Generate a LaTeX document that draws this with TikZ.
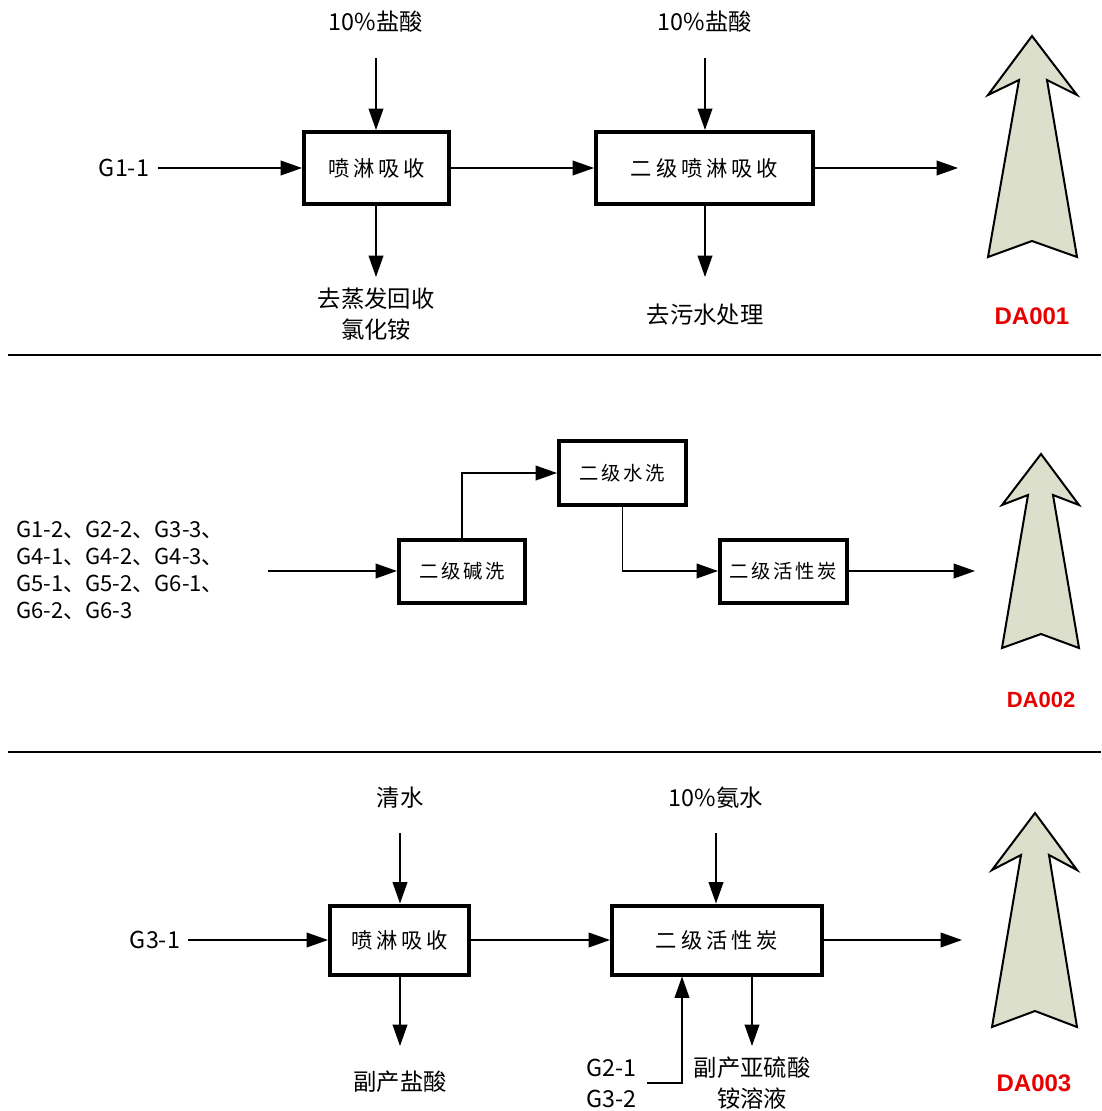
\documentclass[tikz,border=0pt]{standalone}
\usepackage{fontspec}
\setmainfont{Noto Sans CJK SC}
\newfontfamily\boxfont{Noto Sans CJK SC}[LetterSpace=18]
\newfontfamily\boxfontB{Noto Sans CJK SC}[LetterSpace=14]
\newfontfamily\dafont{Liberation Sans}
\usetikzlibrary{arrows.meta}
\definecolor{chim}{RGB}{220,223,204}
\definecolor{dared}{RGB}{230,0,0}
\begin{document}
\begin{tikzpicture}[x=0.75pt,y=-0.75pt,
  proc/.style={draw, line width=3pt, inner sep=0pt, fill=white, font=\boxfont\fontsize{16pt}{19pt}\selectfont},
  procB/.style={proc, font=\boxfontB\fontsize{14.5pt}{17pt}\selectfont},
  sz/.style 2 args={minimum width=#1*0.75pt, minimum height=#2*0.75pt},
  arr/.style={line width=1.2pt, -{Triangle[length=16pt,width=11pt]}},
  lbl/.style={inner sep=0pt, font=\fontsize{17.5pt}{23.25pt}\selectfont, align=center},
  glbl/.style={inner sep=0pt, font=\fontsize{16.5pt}{20.25pt}\selectfont, align=left},
  da/.style={inner sep=0pt, font=\dafont\bfseries\fontsize{18pt}{20pt}\selectfont, text=dared},
  stack/.style={draw=black, line width=1.5pt, fill=chim, line join=miter},
  sepline/.style={line width=1.6pt}]
\useasboundingbox (0,0) rectangle (1101,1111);

% ---------- Row 1 ----------
\node[proc, sz={145}{72}] (b11) at (376.5,168) {喷淋吸收};
\node[proc, sz={217}{72}] (b12) at (704.5,168) {二级喷淋吸收};
\node[lbl] (t11) at (376,22) {10\%盐酸};
\node[lbl] (t12) at (705,22) {10\%盐酸};
\node[lbl] (g11) at (124,168) {G1-1};
\node[lbl] (o11) at (376,314) {去蒸发回收\\氯化铵};
\node[lbl] (o12) at (705,315) {去污水处理};
\node[da] (da1) at (1032,316) {DA001};
\coordinate (c11) at (376,58);
\coordinate (c12) at (705,58);
\coordinate (g11s) at (158,168);
\coordinate (d11) at (376,277);
\coordinate (d12) at (705,277);
\coordinate (e1) at (958,168);
\draw[arr] (g11s) -- (b11.west);
\draw[arr] (b11.east) -- (b12.west);
\draw[arr] (b12.east) -- (e1);
\draw[arr] (c11) -- (c11 |- b11.north);
\draw[arr] (c12) -- (c12 |- b12.north);
\draw[arr] (d11 |- b11.south) -- (d11);
\draw[arr] (d12 |- b12.south) -- (d12);
\draw[stack] (1032,36) -- (1077,95) -- (1047,80) -- (1077,257) -- (1032,241) -- (988,257) -- (1019,80) -- (988,95) -- cycle;

\draw[sepline] (8,355) -- (1101,355);

% ---------- Row 2 ----------
\node[procB, sz={126}{63}] (b21) at (462,571) {二级碱洗};
\node[procB, sz={127}{64}] (b22) at (622.5,473) {二级水洗};
\node[procB, sz={127}{63}] (b23) at (783.5,571) {二级活性炭};
\node[glbl, anchor=west] (g2) at (16,570.5) {G1-2、G2-2、G3-3、\\G4-1、G4-2、G4-3、\\G5-1、G5-2、G6-1、\\G6-2、G6-3};
\node[da, font=\dafont\bfseries\fontsize{16.5pt}{18pt}\selectfont] (da2) at (1041,700) {DA002};
\coordinate (g2s) at (268,571);
\coordinate (e2) at (975,571);
\draw[arr] (g2s) -- (g2s -| b21.west);
\draw[arr] (b21.north) |- (b22.west);
\draw[arr] (b22.south) |- (b23.west);
\draw[arr] (b23.east) -- (e2 |- b23.east);
\draw[stack] (1041,454) -- (1079,505) -- (1053,495) -- (1079,648) -- (1041,634) -- (1002,648) -- (1028,495) -- (1002,505) -- cycle;

\draw[sepline] (8,752) -- (1101,752);

% ---------- Row 3 ----------
\node[proc, sz={139}{69}] (b31) at (399.5,940) {喷淋吸收};
\node[proc, sz={210}{69}] (b32) at (717,940) {二级活性炭};
\node[lbl] (t31) at (400,798) {清水};
\node[lbl] (t32) at (716,798) {10\%氨水};
\node[lbl] (g31) at (155,940) {G3-1};
\node[lbl] (o31) at (400,1082) {副产盐酸};
\node[lbl, anchor=west, align=left] (g32) at (586,1083) {G2-1\\G3-2};
\node[lbl] (o32) at (752,1083) {副产亚硫酸\\铵溶液};
\node[da] (da3) at (1034,1083) {DA003};
\coordinate (c31) at (400,833);
\coordinate (c32) at (716,833);
\coordinate (g31s) at (188,940);
\coordinate (d31) at (400,1046);
\coordinate (d32) at (752,1046);
\coordinate (gin) at (647,1083);
\coordinate (gx) at (682,1083);
\coordinate (e3) at (962,940);
\draw[arr] (g31s) -- (b31.west);
\draw[arr] (b31.east) -- (b32.west);
\draw[arr] (b32.east) -- (e3);
\draw[arr] (c31) -- (c31 |- b31.north);
\draw[arr] (c32) -- (c32 |- b32.north);
\draw[arr] (d31 |- b31.south) -- (d31);
\draw[arr] (d32 |- b32.south) -- (d32);
\draw[arr] (gin) -| (b32.south -| gx);
\draw[stack] (1035,813) -- (1077,870) -- (1049,855) -- (1077,1027) -- (1035,1011) -- (992,1027) -- (1021,855) -- (992,870) -- cycle;
\end{tikzpicture}
\end{document}
